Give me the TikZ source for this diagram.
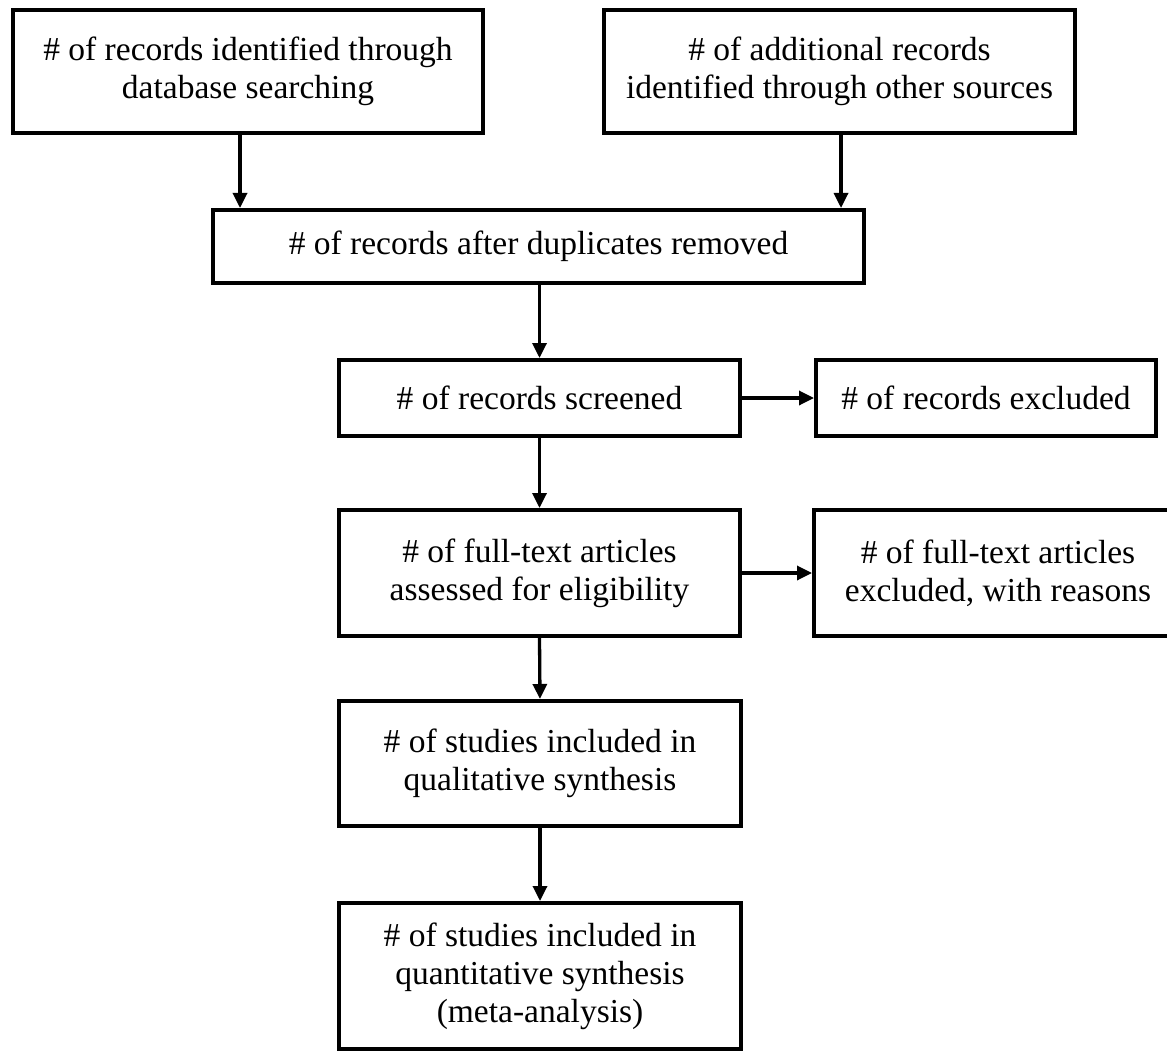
\documentclass[tikz,border=0pt]{standalone}
\usepackage{fontspec}
\setmainfont{Liberation Serif}
\usetikzlibrary{arrows.meta}
\begin{document}
\begin{tikzpicture}[x=1pt,y=-1pt,
  box/.style={draw=black, line width=4pt, align=center, inner sep=0pt,
    font=\fontsize{33.5}{38}\selectfont},
  arr/.style={line width=3.3pt, -{Triangle[length=15pt,width=14pt]}}]
\useasboundingbox (0,0) rectangle (1167,1051);
\node[box, minimum width=470pt, minimum height=123pt] (b1) at (248,71.5)
  {\# of records identified through\\database searching};
\node[box, minimum width=471pt, minimum height=123pt] (b2) at (839.5,71.5)
  {\# of additional records\\identified through other sources};
\node[box, minimum width=651pt, minimum height=73pt] (b3) at (538.5,246.5)
  {\# of records after duplicates removed};
\node[box, minimum width=401pt, minimum height=76pt] (b4) at (539.5,398)
  {\# of records screened};
\node[box, minimum width=340pt, minimum height=76pt] (b5) at (986,398)
  {\# of records excluded};
\node[box, minimum width=401pt, minimum height=126pt] (b6) at (539.5,573)
  {\# of full-text articles\\assessed for eligibility};
\node[box, minimum width=368pt, minimum height=126pt] (b7) at (998,573)
  {\# of full-text articles\\excluded, with reasons};
\node[box, minimum width=402pt, minimum height=125pt] (b8) at (540,763.5)
  {\# of studies included in\\qualitative synthesis};
\node[box, minimum width=402pt, minimum height=146pt] (b9) at (540,976)
  {\# of studies included in\\quantitative synthesis\\(meta-analysis)};
\coordinate (xa) at (240,0);
\coordinate (xb) at (841,0);
\draw[arr] (b1.south -| xa) -- (b3.north -| xa);
\draw[arr] (b2.south -| xb) -- (b3.north -| xb);
\draw[arr] (b3.south -| b4.north) -- (b4.north);
\draw[arr] (b4.east) -- (b5.west);
\draw[arr] (b4.south) -- (b6.north);
\draw[arr] (b6.east) -- (b6.east -| b7.west);
\draw[arr] (b6.south) -- (b8.north);
\draw[arr] (b8.south) -- (b9.north);
\end{tikzpicture}
\end{document}
